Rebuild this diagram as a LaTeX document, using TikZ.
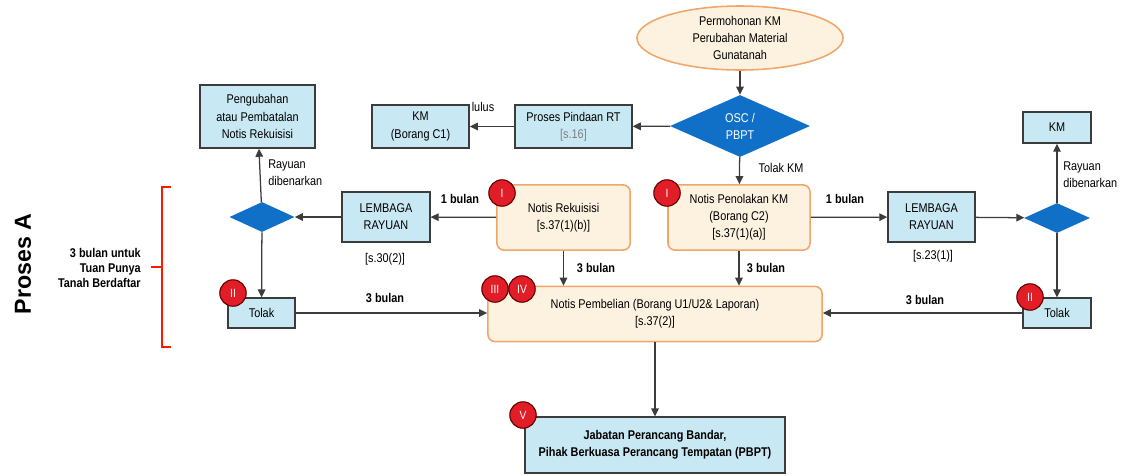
\documentclass[tikz,border=0pt]{standalone}
\usepackage{fontspec}
\setmainfont{Liberation Sans}[FakeStretch=0.86]
\newfontfamily\plainsans{Liberation Sans}
\usepackage{xcolor}
\usepackage{tikz}
\usetikzlibrary{shapes.geometric,arrows.meta}
\definecolor{boxblue}{RGB}{200, 232, 243}
\definecolor{decblue}{RGB}{16, 112, 200}
\definecolor{notecream}{RGB}{253, 242, 224}
\definecolor{noteorange}{RGB}{240, 165, 105}
\definecolor{badgered}{RGB}{225, 30, 40}
\definecolor{linegray}{RGB}{60, 60, 60}

\begin{document}
\begin{tikzpicture}[x=0.025cm, y=-0.025cm, font=\fontsize{9}{12.2}\selectfont,
  >={Triangle[length=2mm, width=1.9mm]},
  bluebox/.style={rectangle, draw=linegray, fill=boxblue, line width=0.9pt, align=center, inner sep=1pt},
  notebox/.style={rectangle, rounded corners=5pt, draw=noteorange, fill=notecream, line width=1.1pt, align=center, inner sep=1pt},
  decision/.style={diamond, fill=decblue, inner sep=0pt, text=white, align=center},
  badge/.style={circle, fill=badgered, draw=red!40!black, line width=0.8pt, minimum size=0.66cm, inner sep=0pt, text=white, font=\fontsize{8.5}{9}\selectfont},
  flow/.style={->, draw=linegray, line width=0.9pt},
  boldlbl/.style={font=\fontsize{9}{12.2}\selectfont\bfseries}]
\useasboundingbox (0,0) rectangle (1122,475);

% Nodes
\node[ellipse, draw=noteorange, fill=notecream, line width=1.1pt, minimum width=5.15cm, minimum height=1.6cm, align=center, inner sep=0pt] (mohon) at (740,38) {Permohonan KM\\Perubahan Material\\Gunatanah};
\node[decision, minimum width=3.5cm, minimum height=1.55cm] (osc) at (740,126) {OSC /\\PBPT};
\node[bluebox, minimum width=2.93cm, minimum height=1.08cm] (pindaan) at (573.5,126.5) {Proses Pindaan RT\\\textcolor{gray}{[s.16]}};
\node[bluebox, minimum width=2.43cm, minimum height=1.08cm] (kmc) at (420.5,126.5) {KM\\(Borang C1)};

\node[notebox, minimum width=3.33cm, minimum height=1.63cm] (rekuisisi) at (563.5,217.5) {Notis Rekuisisi\\{[s.37(1)(b)]}};
\node[notebox, minimum width=3.55cm, minimum height=1.63cm] (tolakkm) at (739,217.5) {Notis Penolakan KM\\(Borang C2)\\{[s.37(1)(a)]}};
\node[notebox, minimum width=8.35cm, minimum height=1.38cm] (beli) at (655,314) {Notis Pembelian (Borang U1/U2\& Laporan)\\{[s.37(2)]}};
\node[bluebox, minimum width=6.5cm, minimum height=1.4cm, boldlbl] (jabatan) at (655,445) {Jabatan Perancang Bandar,\\Pihak Berkuasa Perancang Tempatan (PBPT)};

\node[bluebox, minimum width=2.2cm, minimum height=1.25cm] (rayuanL) at (386,217) {LEMBAGA\\RAYUAN};
\node[decision, minimum width=1.63cm, minimum height=0.75cm] (decL) at (262,217) {};
\node[bluebox, minimum width=2.88cm, minimum height=1.58cm] (ubah) at (257.5,116.5) {Pengubahan\\atau Pembatalan\\Notis Rekuisisi};
\node[bluebox, minimum width=1.68cm, minimum height=0.75cm] (tolakL) at (261.5,313) {Tolak};

\node[bluebox, minimum width=2.18cm, minimum height=1.25cm] (rayuanR) at (931.5,217) {LEMBAGA\\RAYUAN};
\node[decision, minimum width=1.65cm, minimum height=0.75cm] (decR) at (1057,218) {};
\node[bluebox, minimum width=1.7cm, minimum height=0.78cm] (kmR) at (1057,127.5) {KM};
\node[bluebox, minimum width=1.7cm, minimum height=0.75cm] (tolakR) at (1057,313) {Tolak};

% Badges
\node[badge] (b1) at (502,193) {I};
\node[badge] (b2) at (667,193) {I};
\node[badge] (b3) at (233,293) {II};
\node[badge] (b4) at (1030,297) {II};
\node[badge] (b5) at (495,289) {III};
\node[badge] (b6) at (522,289) {IV};
\node[badge] (b7) at (523,415) {V};

% Edges
\draw[flow] (mohon) -- (osc);
\draw[flow] (osc) -- (pindaan);
\draw[flow] (pindaan) -- (kmc);
\draw[flow] (osc) -- (tolakkm);
\draw[flow] (rekuisisi) -- (rayuanL);
\draw[flow] (rayuanL) -- (decL);
\draw[flow] (decL) -- (ubah);
\draw[flow] (decL) -- (tolakL);
\draw[flow] (tolakL.east) -- (tolakL.east -| beli.west);
\draw[flow] (rekuisisi.south) -- (rekuisisi.south |- beli.north);
\draw[flow] (tolakkm.south) -- (tolakkm.south |- beli.north);
\draw[flow] (tolakkm) -- (rayuanR);
\draw[flow] (rayuanR) -- (decR);
\draw[flow] (decR) -- (kmR);
\draw[flow] (decR) -- (tolakR);
\draw[flow] (tolakR.west) -- (tolakR.west -| beli.east);
\draw[flow] (beli) -- (jabatan);

% Labels
\node (lulus) at (483,107) {lulus};
\node (tolaklbl) at (781,168) {Tolak KM};
\node[boldlbl] (satuL) at (460,199) {1 bulan};
\node[boldlbl] (satuR) at (845,199) {1 bulan};
\node (sekL) at (385,259) {[s.30(2)]};
\node (sekR) at (933,256) {[s.23(1)]};
\node[boldlbl] (tigaA) at (596,268) {3 bulan};
\node[boldlbl] (tigaB) at (766,268) {3 bulan};
\node[boldlbl] (tigaL) at (385,298) {3 bulan};
\node[boldlbl] (tigaR) at (925,300) {3 bulan};
\node[anchor=west, align=left, inner sep=0pt] (rayL) at (268,173) {Rayuan\\dibenarkan};
\node[anchor=west, align=left, inner sep=0pt] (rayR) at (1063,175) {Rayuan\\dibenarkan};

% Proses A
\draw[red!80!orange, line width=0.8pt] (171,187) -- (162,187) -- (162,347) -- (171,347);
\draw[red!80!orange, line width=0.8pt] (162,267) -- (151,267);
\node[anchor=east, align=right, inner sep=0pt, font=\fontsize{9}{10.5}\selectfont\bfseries] (tempoh) at (141,268) {3 bulan untuk\\Tuan Punya\\Tanah Berdaftar};
\node[rotate=90, font=\plainsans\fontsize{16.5}{18}\selectfont\bfseries] (proses) at (23,264) {Proses A};

\end{tikzpicture}
\end{document}
